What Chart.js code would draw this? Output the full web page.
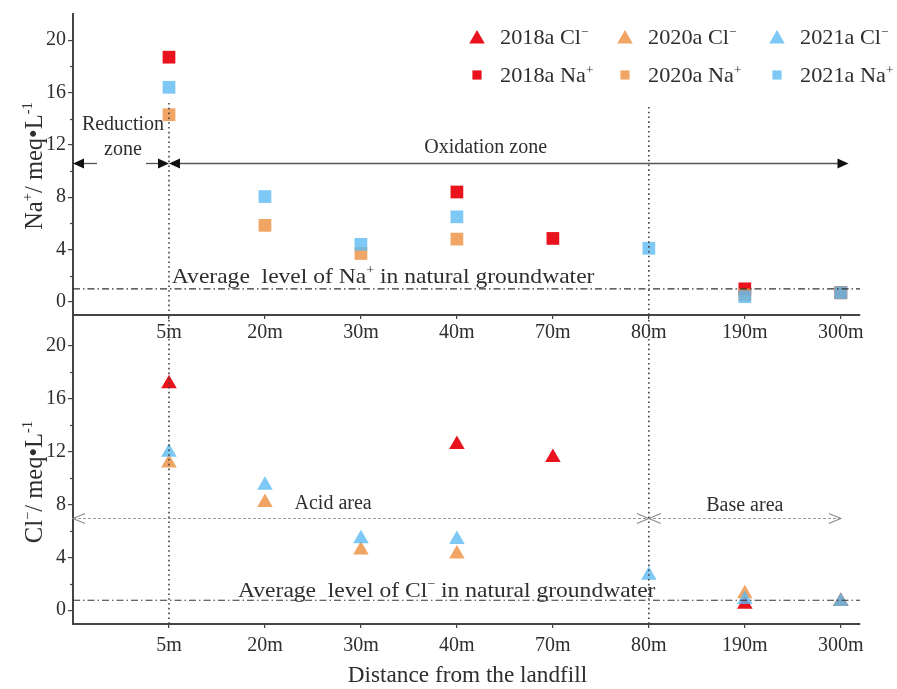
<!DOCTYPE html>
<html>
<head>
<meta charset="utf-8">
<script src="https://cdn.jsdelivr.net/npm/chart.js@4.4.0/dist/chart.umd.min.js"></script>
<style>
  html, body { margin: 0; padding: 0; background: #fff; }
  #wrap { position: relative; width: 897px; height: 689px; }
  #wrap canvas { position: absolute; left: 0; top: 0; }
</style>
</head>
<body>
<div id="wrap">
  <canvas id="naChart" width="897" height="689"></canvas>
  <canvas id="clChart" width="897" height="689"></canvas>
</div>
<script>
// Sampling points, by distance from the landfill
const distances = ['5m', '20m', '30m', '40m', '70m', '80m', '190m', '300m'];

// Na+ concentrations (meq/L), one value per distance
const na2018 = [18.7, null, null, 8.4, 4.85, null, 1.0, 0.7];
const na2020 = [14.3, 5.85, 3.7, 4.8, null, null, 0.55, 0.7];
const na2021 = [16.4, 8.05, 4.4, 6.5, null, 4.1, 0.4, 0.7];

// Cl- concentrations (meq/L), one value per distance
const cl2018 = [17.15, null, null, 12.55, 11.55, null, 0.45, 0.65];
const cl2020 = [11.15, 8.15, 4.55, 4.25, null, null, 1.25, 0.65];
const cl2021 = [11.95, 9.45, 5.4, 5.35, null, 2.65, 0.8, 0.65];

// Natural groundwater background levels (meq/L)
const naBackground = 1.0;
const clBackground = 0.75;

// Y tick labels and their minor ticks
const yTicks = [0, 4, 8, 12, 16, 20];
const yMinorTicks = [2, 6, 10, 14, 18];

// Zone boundaries (index positions on the distance axis) and marker heights
const reductionZone = [0, 1];
const oxidationZone = [1, 8.08];
const zoneArrowLevel = 10.6;
const acidArea = [0, 6];
const baseArea = [6, 8];
const areaArrowLevel = 7.0;

const FONT = '"Liberation Serif", "Times New Roman", Times, serif';
const INK = '#2e2e2e';
const AXIS = '#444';
const RED = 'rgba(232, 6, 18, 0.95)';
const ORANGE = 'rgba(236, 142, 61, 0.8)';
const BLUE = 'rgba(92, 186, 242, 0.8)';

const toPoints = arr => arr.map((v, i) => (v == null ? null : { x: i + 1, y: v })).filter(Boolean);

// Text with superscript parts: strings are normal, {sup: '...'} are raised.
// sx widens the run horizontally.
function drawRich(ctx, parts, x, y, size, align, sx) {
  sx = sx || 1;
  let total = 0;
  const segs = parts.map(p => {
    const sup = typeof p !== 'string';
    const t = sup ? p.sup : p;
    const fs = sup ? size * 0.6 : size;
    ctx.font = `${fs}px ${FONT}`;
    const w = ctx.measureText(t).width;
    total += w;
    return { t, sup, fs, w };
  });
  const full = total * sx;
  const start = align === 'center' ? x - full / 2 : align === 'right' ? x - full : x;
  ctx.save();
  ctx.translate(start, y);
  ctx.scale(sx, 1);
  ctx.textAlign = 'left';
  ctx.textBaseline = 'alphabetic';
  let cx = 0;
  segs.forEach(s => {
    ctx.font = `${s.fs}px ${FONT}`;
    ctx.fillText(s.t, cx, s.sup ? -size * 0.4 : 0);
    cx += s.w;
  });
  ctx.restore();
}

function solidHead(ctx, tipX, y, dir) {
  ctx.beginPath();
  ctx.moveTo(tipX, y);
  ctx.lineTo(tipX - dir * 11, y - 5);
  ctx.lineTo(tipX - dir * 11, y + 5);
  ctx.closePath();
  ctx.fill();
}

function openHead(ctx, tipX, y, dir) {
  ctx.beginPath();
  ctx.moveTo(tipX - dir * 12, y - 5);
  ctx.lineTo(tipX, y);
  ctx.lineTo(tipX - dir * 12, y + 5);
  ctx.stroke();
}

function hLine(ctx, x1, x2, y, dash, color, width) {
  ctx.save();
  ctx.setLineDash(dash);
  ctx.strokeStyle = color;
  ctx.lineWidth = width;
  ctx.beginPath();
  ctx.moveTo(x1, y);
  ctx.lineTo(x2, y);
  ctx.stroke();
  ctx.restore();
}

function vLine(ctx, x, y1, y2) {
  ctx.save();
  ctx.setLineDash([1.6, 3.2]);
  ctx.strokeStyle = '#444';
  ctx.lineWidth = 1.6;
  ctx.beginPath();
  ctx.moveTo(x, y1);
  ctx.lineTo(x, y2);
  ctx.stroke();
  ctx.restore();
}

function minorTicks(ctx, chart) {
  const y = chart.scales.y;
  const left = chart.chartArea.left;
  ctx.save();
  ctx.strokeStyle = AXIS;
  ctx.lineWidth = 1.2;
  yMinorTicks.forEach(v => {
    const py = Math.round(y.getPixelForValue(v)) + 0.5;
    ctx.beginPath();
    ctx.moveTo(left - 3, py);
    ctx.lineTo(left, py);
    ctx.stroke();
  });
  ctx.restore();
}

function verticalTitle(ctx, parts, x, y) {
  ctx.save();
  ctx.translate(x, y);
  ctx.rotate(-Math.PI / 2);
  ctx.fillStyle = INK;
  drawRich(ctx, parts, 0, 0, 24.5, 'center');
  ctx.restore();
}

function xScale(tickPadding, height) {
  return {
    type: 'linear',
    min: 0,
    max: 8.2,
    afterBuildTicks: s => { s.ticks = distances.map((_, i) => ({ value: i + 1 })); },
    ticks: {
      callback: v => distances[Math.round(v) - 1] || '',
      font: { family: FONT, size: 20 },
      color: INK,
      padding: tickPadding,
      autoSkip: false,
      maxRotation: 0
    },
    grid: { drawOnChartArea: false, drawTicks: true, tickLength: 4, color: AXIS, lineWidth: 1.2 },
    border: { display: true, color: AXIS, width: 2 },
    afterFit: s => { s.height = height; }
  };
}

function yScale(min, max) {
  return {
    min, max,
    afterBuildTicks: s => { s.ticks = yTicks.map(v => ({ value: v })); },
    ticks: { font: { family: FONT, size: 20 }, color: INK, padding: 2 },
    grid: { drawOnChartArea: false, drawTicks: true, tickLength: 5, color: AXIS, lineWidth: 1.2 },
    border: { display: true, color: AXIS, width: 2 },
    afterFit: s => { s.width = 73; }
  };
}

// Later years are drawn over earlier ones (lower order = on top)
function series(label, values, color, style, radius, order) {
  return {
    label,
    order,
    data: toPoints(values),
    pointStyle: style,
    pointRadius: radius,
    pointHoverRadius: radius,
    pointBackgroundColor: color,
    pointBorderWidth: 0,
    backgroundColor: color,
    showLine: false
  };
}

const legendItems = [
  { text: ['2018a Cl', { sup: '\u2212' }], color: RED, style: 'triangle', r: 9, x: 477, y: 37 },
  { text: ['2020a Cl', { sup: '\u2212' }], color: ORANGE, style: 'triangle', r: 9, x: 625, y: 37 },
  { text: ['2021a Cl', { sup: '\u2212' }], color: BLUE, style: 'triangle', r: 9, x: 777, y: 37 },
  { text: ['2018a Na', { sup: '+' }], color: RED, style: 'rect', r: 6.5, x: 477, y: 75 },
  { text: ['2020a Na', { sup: '+' }], color: ORANGE, style: 'rect', r: 6.5, x: 625, y: 75 },
  { text: ['2021a Na', { sup: '+' }], color: BLUE, style: 'rect', r: 6.5, x: 777, y: 75 }
];

// Upper panel decorations: zones, background level, legend, axis title
const naDecor = {
  id: 'naDecor',
  afterDatasetsDraw(chart) {
    const { ctx, chartArea: a, scales: { x, y } } = chart;
    minorTicks(ctx, chart);

    vLine(ctx, x.getPixelForValue(1), y.getPixelForValue(15.2), a.bottom);
    vLine(ctx, x.getPixelForValue(6), y.getPixelForValue(14.9), a.bottom);

    const bg = y.getPixelForValue(naBackground);
    hLine(ctx, a.left, a.right, bg, [7, 3, 1.5, 3], '#333', 1.1);

    // Reduction / oxidation zone arrows
    const zy = Math.round(y.getPixelForValue(zoneArrowLevel)) + 0.5;
    const r0 = x.getPixelForValue(reductionZone[0]);
    const r1 = x.getPixelForValue(reductionZone[1]);
    const o1 = x.getPixelForValue(oxidationZone[1]);
    ctx.save();
    ctx.fillStyle = '#111';
    hLine(ctx, r0 + 4, r0 + 24, zy, [], '#555', 1.3);
    hLine(ctx, r1 - 23, r1 - 4, zy, [], '#555', 1.3);
    hLine(ctx, r1 + 4, o1 - 4, zy, [], '#555', 1.3);
    solidHead(ctx, r0, zy, -1);
    solidHead(ctx, r1, zy, 1);
    solidHead(ctx, r1, zy, -1);
    solidHead(ctx, o1, zy, 1);
    ctx.fillStyle = INK;
    const rc = (r0 + r1) / 2 + 2;
    drawRich(ctx, ['Reduction'], rc, 130, 20, 'center');
    drawRich(ctx, ['zone'], rc, 155, 20, 'center');
    drawRich(ctx, ['Oxidation zone'], x.getPixelForValue(4.3), 153, 20, 'center');
    drawRich(ctx, ['Average  level of Na', { sup: '+' }, ' in natural groundwater'], x.getPixelForValue(1.03), bg - 6, 22, 'left', 1.07);
    ctx.restore();

    // Legend
    ctx.save();
    legendItems.forEach(it => {
      ctx.fillStyle = it.color;
      Chart.helpers.drawPoint(ctx, { pointStyle: it.style, radius: it.r, rotation: 0, borderWidth: 0 }, it.x, it.style === 'triangle' ? it.y + 2 : it.y);
      ctx.fillStyle = INK;
      drawRich(ctx, it.text, it.x + 23, it.y + 7, 21, 'left', 1.06);
    });
    ctx.restore();

    verticalTitle(ctx, ['Na', { sup: '+' }, '/ meq\u2022L', { sup: '-1' }], 42, 166);
  }
};

// Lower panel decorations: acid/base areas, background level, axis titles
const clDecor = {
  id: 'clDecor',
  afterDatasetsDraw(chart) {
    const { ctx, chartArea: a, scales: { x, y } } = chart;
    minorTicks(ctx, chart);

    vLine(ctx, x.getPixelForValue(1), a.top, a.bottom);
    vLine(ctx, x.getPixelForValue(6), a.top, a.bottom);

    const bg = y.getPixelForValue(clBackground);
    hLine(ctx, a.left, a.right, bg, [7, 3, 1.5, 3], '#333', 1.1);

    const ay = Math.round(y.getPixelForValue(areaArrowLevel)) + 0.5;
    const a0 = x.getPixelForValue(acidArea[0]);
    const a1 = x.getPixelForValue(acidArea[1]);
    const b1 = x.getPixelForValue(baseArea[1]);
    hLine(ctx, a0, b1, ay, [3, 2], '#9a9a9a', 1.2);
    ctx.save();
    ctx.strokeStyle = '#8a8a8a';
    ctx.lineWidth = 1.1;
    openHead(ctx, a0, ay, -1);
    openHead(ctx, a1, ay, 1);
    openHead(ctx, a1, ay, -1);
    openHead(ctx, b1, ay, 1);
    ctx.restore();

    ctx.save();
    ctx.fillStyle = INK;
    drawRich(ctx, ['Acid area'], x.getPixelForValue(2.71), ay - 10, 20, 'center');
    drawRich(ctx, ['Base area'], x.getPixelForValue(7.0), ay - 8, 20, 'center');
    drawRich(ctx, ['Average  level of Cl', { sup: '\u2212' }, ' in natural groundwater'], x.getPixelForValue(1.72), bg - 3, 22, 'left', 1.07);
    drawRich(ctx, ['Distance from the landfill'], (a.left + a.right) / 2 + 1, 682, 23, 'center', 1.01);
    ctx.restore();

    verticalTitle(ctx, ['Cl', { sup: '\u2212' }, '/ meq\u2022L', { sup: '-1' }], 42, 482);
  }
};

const baseOptions = {
  responsive: false,
  animation: false,
  events: [],
  plugins: { legend: { display: false }, tooltip: { enabled: false } }
};

new Chart(document.getElementById('naChart'), {
  type: 'scatter',
  data: {
    datasets: [
      series('2018a Na+', na2018, RED, 'rect', 9, 3),
      series('2020a Na+', na2020, ORANGE, 'rect', 9, 2),
      series('2021a Na+', na2021, BLUE, 'rect', 9, 1)
    ]
  },
  options: Object.assign({}, baseOptions, {
    layout: { padding: { top: 12, right: 37, bottom: 344, left: 0 } },
    scales: { x: xScale(2, 30), y: yScale(-1, 22) }
  }),
  plugins: [naDecor]
});

new Chart(document.getElementById('clChart'), {
  type: 'scatter',
  data: {
    datasets: [
      series('2018a Cl-', cl2018, RED, 'triangle', 9, 3),
      series('2020a Cl-', cl2020, ORANGE, 'triangle', 9, 2),
      series('2021a Cl-', cl2021, BLUE, 'triangle', 9, 1)
    ]
  },
  options: Object.assign({}, baseOptions, {
    layout: { padding: { top: 315, right: 37, bottom: 25, left: 0 } },
    scales: { x: xScale(6, 40), y: yScale(-1.05, 22.35) }
  }),
  plugins: [clDecor]
});
</script>
</body>
</html>
